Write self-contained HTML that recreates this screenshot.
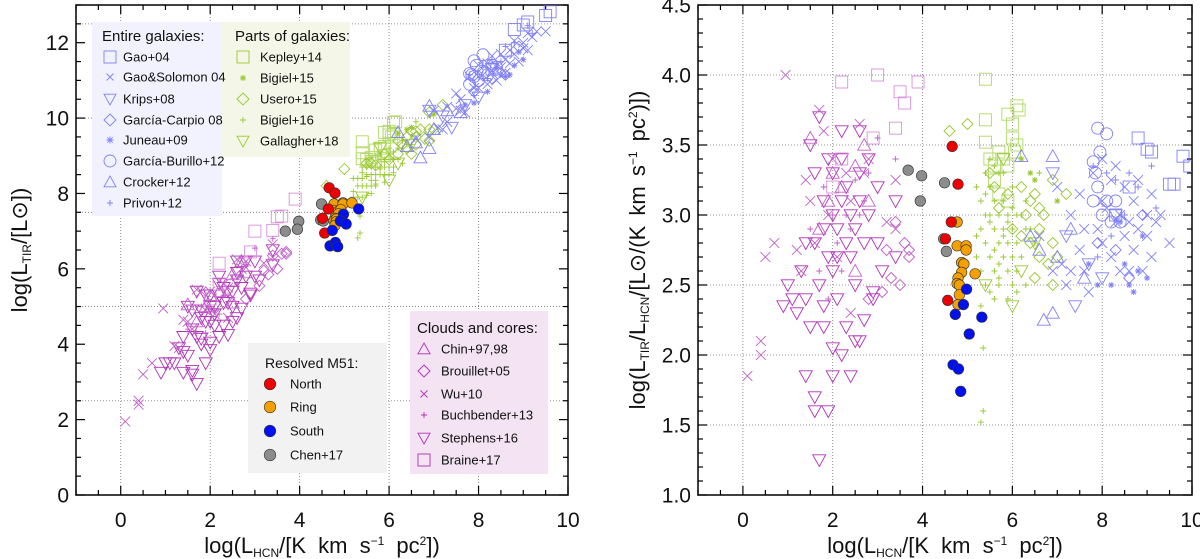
<!DOCTYPE html>
<html><head><meta charset="utf-8">
<style>
html,body{margin:0;padding:0;background:#fff;}
svg{display:block;font-family:"Liberation Sans",sans-serif;}
</style></head>
<body>
<svg id="fig" width="1200" height="559" viewBox="0 0 1200 559" xmlns="http://www.w3.org/2000/svg"></svg>
<script>
// ---- data: [logLHCN, log(LTIR/LHCN)] ----
const stephens16=[[1.1,2.4],[1.3,2.6],[1.4,2.8],[1.5,3.5],[1.6,3.3],[1.5,2.2],[1.7,2.5],[1.7,3.7],[1.8,3.1],[1.8,2.9],[1.9,2.7],[1.9,3.4],[2.0,3.3],[2.0,2.6],[2.1,2.4],[2.1,2.9],[2.2,3.4],[2.2,3.1],[2.3,2.8],[2.3,3.2],[2.4,3.0],[2.4,2.7],[2.5,2.9],[2.6,3.1],[2.6,3.6],[2.7,2.8],[2.8,3.4],[2.8,3.0],[2.9,2.4],[3.0,3.2],[3.1,2.6],[3.4,3.1],[2.0,2.05],[2.3,2.2],[2.5,2.1],[2.6,2.1],[1.4,1.85],[1.6,1.7],[1.6,1.6],[1.9,1.6],[2.0,1.85],[2.4,1.85],[1.7,1.25],[2.2,2.0],[1.2,2.3],[0.9,2.35],[1.0,2.5],[1.8,2.2],[2.1,2.7],[2.5,2.5],[2.7,2.25],[2.9,2.45],[3.0,2.8],[3.4,2.7],[2.2,3.6],[2.0,3.0],[1.6,2.8],[1.4,2.4],[1.8,2.35],[2.6,3.3]];
const wu10=[[0.1,1.85],[0.4,2.1],[0.4,2.0],[0.5,2.7],[0.7,2.8],[0.95,4.0],[1.2,2.75],[1.4,3.25],[1.5,3.1],[1.7,3.75],[1.6,2.8],[1.9,3.0],[2.0,3.4],[2.1,2.7],[2.3,3.3],[2.4,3.1],[2.6,3.65],[2.7,3.3],[2.8,3.4],[2.4,2.3],[3.4,3.25],[3.4,2.9],[3.2,2.95],[1.3,2.6],[1.8,3.6]];
const braine17=[[2.2,3.95],[3.0,4.0],[3.5,3.88],[3.6,3.8],[3.9,3.95],[2.9,3.55],[3.4,3.62],[2.2,3.4],[2.0,3.2]];
const brouillet05=[[3.4,2.95],[3.6,2.8],[3.7,2.75],[3.7,2.7],[3.3,2.55],[3.5,2.5],[3.1,2.45],[3.2,2.75],[2.8,2.4]];
const chin97=[[1.5,3.55],[2.5,3.35],[2.7,3.5],[2.8,3.1],[2.2,3.2],[2.0,3.3],[1.9,3.1],[2.5,2.6],[1.7,2.9]];
const buchbender13=[[1.5,2.9],[1.8,3.2],[2.0,3.0],[2.1,2.8],[2.3,3.0],[2.5,3.25],[2.6,3.0],[2.8,3.3],[3.0,3.55],[3.4,3.4],[1.7,2.6],[2.2,2.6],[2.4,2.9],[1.9,2.4],[2.7,3.1]];
const bigiel16=[[5.2,3.2],[5.3,3.1],[5.3,2.9],[5.4,3.3],[5.4,3.0],[5.4,2.8],[5.5,3.2],[5.5,2.7],[5.5,3.0],[5.6,2.9],[5.6,3.1],[5.6,2.6],[5.7,3.3],[5.7,2.8],[5.7,3.0],[5.8,2.7],[5.8,2.9],[5.8,3.1],[5.9,2.8],[5.9,3.0],[5.9,2.6],[6.0,2.9],[6.0,2.7],[6.0,3.2],[6.1,2.8],[6.1,2.6],[6.2,2.7],[6.3,2.9],[5.3,2.6],[5.4,2.5],[5.5,2.45],[5.6,2.4],[5.7,2.55],[5.3,2.35],[5.35,2.05],[5.35,1.6],[5.3,1.52],[5.2,2.7],[5.5,3.4],[5.6,3.35],[5.8,3.3],[6.0,3.05],[6.2,3.0],[6.4,2.9],[6.5,2.8],[6.6,3.3],[6.3,2.5],[6.0,2.5],[5.9,2.4],[5.7,2.5],[5.4,3.15],[5.5,2.95],[5.6,2.75],[5.7,2.65],[5.8,2.85],[5.9,2.95],[6.1,3.0],[6.3,3.1],[5.2,2.85],[6.1,2.45]];
const kepley14=[[5.4,3.97],[5.4,3.68],[5.4,3.52],[5.5,3.4],[5.7,3.45],[5.8,3.4],[5.9,3.72],[6.0,3.65],[6.1,3.78],[6.15,3.75],[6.0,3.55],[6.1,3.5],[6.05,3.45],[5.9,3.35],[5.6,3.35],[5.7,3.15],[5.9,3.1],[5.6,3.25]];
const usero15=[[4.6,3.6],[5.0,3.65],[5.5,3.3],[5.6,3.2],[5.7,3.05],[6.0,2.9],[6.2,2.85],[6.3,3.0],[6.2,3.2],[6.4,3.1],[6.5,3.15],[6.6,3.05],[6.7,3.0],[6.9,3.25],[6.6,2.9],[6.6,2.7],[6.5,2.55],[6.8,2.65],[6.9,2.5],[7.0,2.7],[7.2,3.15],[6.9,2.8],[6.4,2.8],[5.9,3.15]];
const gallagher18=[[5.4,2.5],[6.0,2.35],[5.8,3.4],[6.5,2.8],[6.2,2.6]];
const bigiel15=[[6.4,3.3],[6.5,3.25],[6.2,3.4],[7.0,3.1]];
const gaoSolomon04=[[7.0,3.2],[7.1,2.65],[7.2,2.5],[7.3,3.0],[7.5,2.75],[7.5,3.15],[7.6,2.6],[7.7,2.45],[7.8,3.3],[7.9,2.9],[8.0,3.4],[8.0,2.8],[8.1,3.05],[8.2,2.7],[8.2,3.25],[8.3,3.35],[8.3,2.95],[8.4,3.0],[8.4,2.6],[8.5,2.85],[8.5,3.2],[8.6,2.95],[8.6,2.6],[8.7,3.1],[8.7,2.75],[8.8,2.9],[8.8,3.25],[8.9,2.6],[9.0,3.0],[9.0,2.85],[9.1,3.15],[9.1,2.7],[9.2,2.95],[9.3,3.0],[9.5,2.8],[6.6,2.85],[6.9,2.6],[7.3,2.6],[7.6,2.9],[8.0,3.1]];
const garciaBurillo12=[[7.9,3.62],[8.1,3.58],[7.8,3.38],[7.85,3.3],[7.9,3.2],[7.8,3.1],[8.0,3.0],[8.1,3.1],[8.2,2.95],[8.4,2.95],[8.3,3.1],[7.95,3.45]];
const gao04=[[8.8,3.55],[9.0,3.47],[9.1,3.45],[9.8,3.42],[9.95,3.35],[9.5,3.22],[9.6,3.22],[8.6,3.2],[8.3,3.0]];
const crocker12=[[6.2,3.42],[6.9,3.42],[6.4,2.85],[6.6,2.75],[7.0,2.7],[6.7,2.25],[7.6,2.55],[6.9,2.3],[7.3,2.9]];
const privon12=[[7.8,3.35],[8.1,3.3],[8.3,3.25],[8.6,3.3],[8.8,3.2],[9.1,3.35],[9.2,3.05],[8.5,3.0],[8.2,2.85],[7.9,2.7]];
const juneau09=[[7.7,2.65],[7.9,2.5],[8.2,2.5],[8.6,2.5],[8.7,2.45],[8.8,2.6],[9.0,2.55],[8.5,2.65],[8.4,2.95],[8.9,2.85]];
const krips08=[[6.9,3.3],[7.4,2.35],[7.7,2.65],[8.0,2.55],[7.2,2.85],[8.3,3.0]];
const garciaCarpio08=[[8.3,2.75],[8.6,2.55],[7.9,2.8],[8.9,3.0]];
const m51North=[[4.66,3.49],[4.79,3.22],[4.64,2.95],[4.51,2.83],[4.56,2.39]];
const m51Ring=[[4.77,2.95],[4.77,2.78],[4.97,2.78],[4.97,2.75],[4.87,2.66],[4.92,2.65],[4.87,2.59],[5.17,2.58],[4.79,2.55],[4.77,2.51],[4.82,2.5],[4.82,2.43],[4.79,2.36]];
const m51South=[[4.98,2.47],[4.91,2.36],[4.73,2.29],[5.32,2.27],[5.04,2.15],[4.68,1.93],[4.8,1.9],[4.85,1.74]];
const chen17=[[3.68,3.32],[3.98,3.28],[3.95,3.1],[4.49,3.23],[4.47,2.83],[4.53,2.74]];
const leftYTicks=[0,2,4,6,8,10,12];
const rightYTicks=["1.0","1.5","2.0","2.5","3.0","3.5","4.0","4.5"];
const xTicks=[0,2,4,6,8,10];

const NS="http://www.w3.org/2000/svg";
const svg=document.getElementById('fig');
function el(tag,attrs,parent){const e=document.createElementNS(NS,tag);for(const k in attrs)e.setAttribute(k,attrs[k]);(parent||svg).appendChild(e);return e;}

const P1={x0:76,x1:568,y0:5,y1:495,xmin:-1,xmax:10,ymin:0,ymax:13};
const P2={x0:698,x1:1192,y0:5,y1:495,xmin:-1,xmax:10,ymin:1,ymax:4.5};
function sx(P,v){return P.x0+(v-P.xmin)/(P.xmax-P.xmin)*(P.x1-P.x0);}
function sy(P,v){return P.y1-(v-P.ymin)/(P.ymax-P.ymin)*(P.y1-P.y0);}

function marker(g,type,x,y,col,s){
  const sw=0.9;let e;
  if(type==='sq'){e=el('rect',{x:x-s,y:y-s,width:2*s,height:2*s,fill:'none',stroke:col,'stroke-width':sw},g);}
  else if(type==='x'){e=el('path',{d:`M${x-s*0.7},${y-s*0.7}L${x+s*0.7},${y+s*0.7}M${x-s*0.7},${y+s*0.7}L${x+s*0.7},${y-s*0.7}`,stroke:col,'stroke-width':sw,fill:'none'},g);}
  else if(type==='plus'){e=el('path',{d:`M${x-s*0.6},${y}L${x+s*0.6},${y}M${x},${y-s*0.6}L${x},${y+s*0.6}`,stroke:col,'stroke-width':sw,fill:'none'},g);}
  else if(type==='ast'){e=el('path',{d:`M${x-s*0.6},${y}L${x+s*0.6},${y}M${x},${y-s*0.6}L${x},${y+s*0.6}M${x-s*0.45},${y-s*0.45}L${x+s*0.45},${y+s*0.45}M${x-s*0.45},${y+s*0.45}L${x+s*0.45},${y-s*0.45}`,stroke:col,'stroke-width':sw,fill:'none'},g);}
  else if(type==='dia'){e=el('path',{d:`M${x},${y-s}L${x+s},${y}L${x},${y+s}L${x-s},${y}Z`,stroke:col,'stroke-width':sw,fill:'none'},g);}
  else if(type==='circ'){e=el('circle',{cx:x,cy:y,r:s,stroke:col,'stroke-width':sw,fill:'none'},g);}
  else if(type==='tu'){e=el('path',{d:`M${x},${y-s}L${x+s},${y+s*0.8}L${x-s},${y+s*0.8}Z`,stroke:col,'stroke-width':sw,fill:'none'},g);}
  else if(type==='td'){e=el('path',{d:`M${x},${y+s}L${x+s},${y-s*0.8}L${x-s},${y-s*0.8}Z`,stroke:col,'stroke-width':sw,fill:'none'},g);}
  else if(type==='dot'){e=el('circle',{cx:x,cy:y,r:s,stroke:'#333','stroke-width':0.6,fill:col},g);}
  return e;
}

const PUR='#b030b8',PUR2='#c060c8',PINK='#d890dc',GRN='#99c832',BLU='#8080f8';
const series=[
 {name:'stephens16',d:stephens16,t:'td',c:PUR,s:6.5},
 {name:'wu10',d:wu10,t:'x',c:PUR2,s:7},
 {name:'braine17',d:braine17,t:'sq',c:PINK,s:6},
 {name:'brouillet05',d:brouillet05,t:'dia',c:PUR2,s:5.5},
 {name:'chin97',d:chin97,t:'tu',c:PUR2,s:6.5},
 {name:'buchbender13',d:buchbender13,t:'plus',c:PUR2,s:5},
 {name:'bigiel16',d:bigiel16,t:'plus',c:GRN,s:5},
 {name:'kepley14',d:kepley14,t:'sq',c:'#b0d860',s:6},
 {name:'usero15',d:usero15,t:'dia',c:GRN,s:5.5},
 {name:'gallagher18',d:gallagher18,t:'td',c:GRN,s:6.5},
 {name:'bigiel15',d:bigiel15,t:'ast',c:GRN,s:5},
 {name:'gao-solomon04',d:gaoSolomon04,t:'x',c:BLU,s:7},
 {name:'garcia-burillo12',d:garciaBurillo12,t:'circ',c:BLU,s:6},
 {name:'gao04',d:gao04,t:'sq',c:BLU,s:6},
 {name:'crocker12',d:crocker12,t:'tu',c:BLU,s:6.5},
 {name:'privon12',d:privon12,t:'plus',c:BLU,s:5.5},
 {name:'juneau09',d:juneau09,t:'ast',c:BLU,s:5},
 {name:'krips08',d:krips08,t:'td',c:BLU,s:6.5},
 {name:'garcia-carpio08',d:garciaCarpio08,t:'dia',c:BLU,s:5.5},
 {name:'m51-chen17',d:chen17,t:'dot',c:'#8c8c8c',s:5.3},
 {name:'m51-ring',d:m51Ring,t:'dot',c:'#f5a000',s:5.3},
 {name:'m51-north',d:m51North,t:'dot',c:'#ee0000',s:5.3},
 {name:'m51-south',d:m51South,t:'dot',c:'#0010ee',s:5.3}
];

function txt(x,y,s,size,anchor,parent,name){const t=el('text',{x:x,y:y,'font-size':size,'text-anchor':anchor||'start',fill:'#111'},parent);t.innerHTML=s;return t;}

function legendBox(x,y,w,h,fill,name){const r=el('rect',{x:x,y:y,width:w,height:h,fill:fill});}

function axes(P,yTicks,yMinor,yMajStep,gridY,pfx){
  const g=el('g',{});
  
  
  [0,2,4,6,8].forEach(v=>{const l=el('line',{x1:sx(P,v),x2:sx(P,v),y1:P.y0,y2:P.y1,stroke:'#777','stroke-width':0.8,'stroke-dasharray':'1,2'},g);});
  gridY.forEach(v=>{const l=el('line',{x1:P.x0,x2:P.x1,y1:sy(P,v),y2:sy(P,v),stroke:'#777','stroke-width':0.8,'stroke-dasharray':'1,2'},g);});
  for(let v=-1;v<=10.001;v+=0.5){const maj=Math.abs(v/2-Math.round(v/2))<1e-6;const L=maj?9:5;const X=sx(P,v);
    el('line',{x1:X,x2:X,y1:P.y1,y2:P.y1-L,stroke:'#000','stroke-width':1.2},g);
    el('line',{x1:X,x2:X,y1:P.y0,y2:P.y0+L,stroke:'#000','stroke-width':1.2},g);}
  for(let v=P.ymin;v<=P.ymax+1e-6;v+=yMinor){const q=(v-P.ymin)/yMajStep;const maj=Math.abs(q-Math.round(q))<1e-6;const L=maj?9:5;const Y=sy(P,v);
    el('line',{x1:P.x0,x2:P.x0+L,y1:Y,y2:Y,stroke:'#000','stroke-width':1.2},g);
    el('line',{x1:P.x1,x2:P.x1-L,y1:Y,y2:Y,stroke:'#000','stroke-width':1.2},g);}
  const f=el('rect',{x:P.x0,y:P.y0,width:P.x1-P.x0,height:P.y1-P.y0,fill:'none',stroke:'#000','stroke-width':1.5},g);
  
  xTicks.forEach(v=>txt(sx(P,v),527,String(v),21,'middle',g,pfx+'-x-tick-label'));
  yTicks.forEach(s=>txt(P.x0-7,sy(P,parseFloat(s))+7.5,String(s),21,'end',g,pfx+'-y-tick-label'));
}

function drawPoints(P,left,pfx){
  const clip=el('clipPath',{id:'clip'+pfx});el('rect',{x:P.x0,y:P.y0,width:P.x1-P.x0,height:P.y1-P.y0},clip);
  series.forEach(S=>{
    const g=el('g',{'clip-path':`url(#clip${pfx})`});
    
    
    S.d.forEach(p=>{const yv=left?p[0]+p[1]:p[1];const m=marker(g,S.t,sx(P,p[0]),sy(P,yv),S.c,S.s);
      
      });
  });
}

// ---------- Left panel ----------
axes(P1,leftYTicks,0.5,2,[2.5,5,7.5,10,12.5],'left');
legendBox(92,22,130,194,'#f2f2ff','legend-entire-galaxies');
legendBox(222,22,128,135,'#f4f7e8','legend-parts-of-galaxies');
legendBox(248,343,139,130,'#f2f2f2','legend-resolved-m51');
legendBox(410,311,138,163,'#f3e3f3','legend-clouds-cores');
drawPoints(P1,true,'left');

const lg=el('g',{});


txt(102,41,'Entire galaxies:',15,'start',lg,'legend-title');
[['sq','Gao+04'],['x','Gao&amp;Solomon 04'],['td','Krips+08'],['dia','García-Carpio 08'],['ast','Juneau+09'],['circ','García-Burillo+12'],['tu','Crocker+12'],['plus','Privon+12']].forEach((e,i)=>{const y=[57,77,99,120,140,161,182,203][i];marker(lg,e[0],110,y,BLU,e[0]==='x'||e[0]==='plus'?5:6);txt(123,y+4.5,e[1],13,'start',lg,'legend-entry');});
txt(235,41,'Parts of galaxies:',15,'start',lg,'legend-title');
[['sq','Kepley+14'],['ast','Bigiel+15'],['dia','Usero+15'],['plus','Bigiel+16'],['td','Gallagher+18']].forEach((e,i)=>{const y=[57,78,99,120,141][i];marker(lg,e[0],243,y,GRN,e[0]==='ast'||e[0]==='plus'?5:6);txt(260,y+4.5,e[1],13,'start',lg,'legend-entry');});
txt(265,368,'Resolved M51:',14,'start',lg,'legend-title');
[['#ee0000','North'],['#f5a000','Ring'],['#0010ee','South'],['#8c8c8c','Chen+17']].forEach((e,i)=>{const y=[384,407,431,455][i];marker(lg,'dot',270,y,e[0],5.8);txt(290,y+4.5,e[1],13,'start',lg,'legend-entry');});
txt(417,333,'Clouds and cores:',15,'start',lg,'legend-title');
[['tu','Chin+97,98'],['dia','Brouillet+05'],['x','Wu+10'],['plus','Buchbender+13'],['td','Stephens+16'],['sq','Braine+17']].forEach((e,i)=>{const y=[349,371,394,415,438,460][i];marker(lg,e[0],424,y,PUR,e[0]==='x'||e[0]==='plus'?5:6);txt(441,y+4.5,e[1],13,'start',lg,'legend-entry');});

const xt1=txt(322,553,'log(L<tspan font-size="12" dy="4">HCN</tspan><tspan dy="-4">/[K km s</tspan><tspan font-size="12" dy="-8">−1</tspan><tspan dy="8"> pc</tspan><tspan font-size="12" dy="-8">2</tspan><tspan dy="8">])</tspan>',22,'middle',svg,'left-x-axis-title');
xt1.setAttribute('word-spacing','6');
const ly=txt(0,0,'log(L<tspan font-size="12" dy="4">TIR</tspan><tspan dy="-4">/[L</tspan><tspan>⊙</tspan><tspan>])</tspan>',22,'middle',svg,'left-y-axis-title');
ly.setAttribute('transform','translate(27,250) rotate(-90)');

// ---------- Right panel ----------
axes(P2,rightYTicks,0.1,0.5,[1.5,2.0,2.5,3.0,3.5,4.0],'right');
drawPoints(P2,false,'right');
const xt2=txt(945,553,'log(L<tspan font-size="12" dy="4">HCN</tspan><tspan dy="-4">/[K km s</tspan><tspan font-size="12" dy="-8">−1</tspan><tspan dy="8"> pc</tspan><tspan font-size="12" dy="-8">2</tspan><tspan dy="8">])</tspan>',22,'middle',svg,'right-x-axis-title');
xt2.setAttribute('word-spacing','6');
const ry=txt(0,0,'log(L<tspan font-size="12" dy="4">TIR</tspan><tspan dy="-4">/L</tspan><tspan font-size="12" dy="4">HCN</tspan><tspan dy="-4">/[L⊙/(K km s</tspan><tspan font-size="12" dy="-8">−1</tspan><tspan dy="8"> pc</tspan><tspan font-size="12" dy="-8">2</tspan><tspan dy="8">)])</tspan>',22,'middle',svg,'right-y-axis-title');
ry.setAttribute('transform','translate(645,250) rotate(-90)');
ry.setAttribute('word-spacing','4');
</script>
</body></html>
